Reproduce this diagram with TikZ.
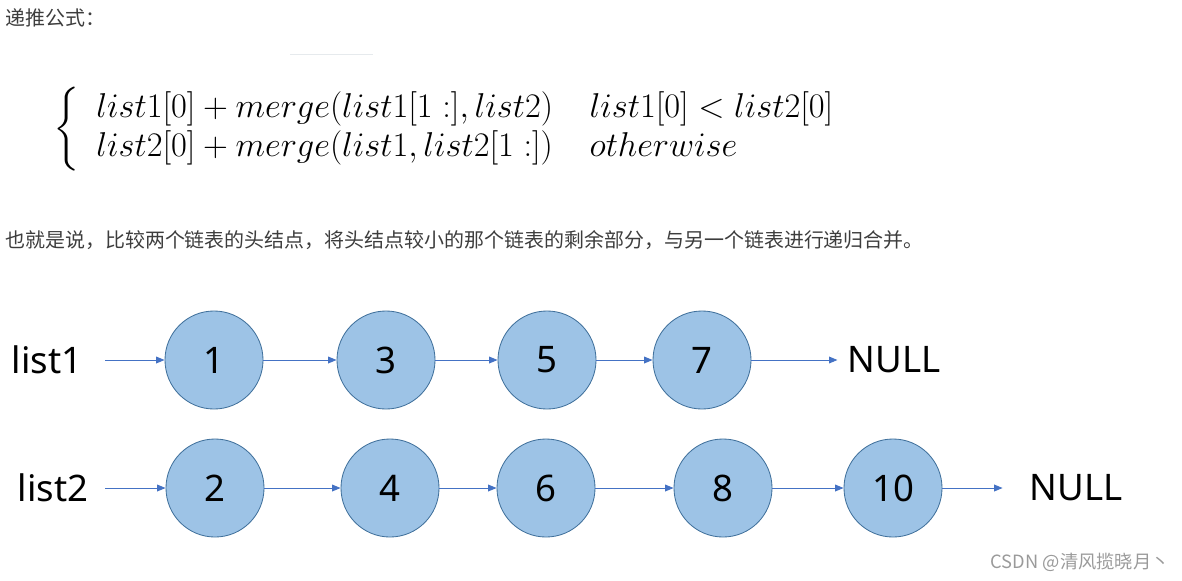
\RequirePackage{fix-cm}
\documentclass[tikz,border=0pt]{standalone}
\usepackage{xcolor}
\usepackage{exscale}
\usepackage{fontspec}
\usepackage{tikz}
\usetikzlibrary{arrows.meta}
\newfontfamily\cjkfont{Noto Sans CJK SC}
\newfontfamily\nodefont{Noto Sans}
\definecolor{nodefill}{HTML}{9DC3E6}
\definecolor{nodeline}{HTML}{41719C}
\definecolor{linkcolor}{HTML}{4472C4}
\definecolor{textgray}{HTML}{3D3D3D}
\definecolor{markgray}{HTML}{9A9A9A}
\definecolor{rulegray}{HTML}{E6EAED}
\tikzset{
  listnode/.style={draw=nodeline, line width=0.6pt, fill=nodefill, circle, minimum size=2.45cm, inner sep=0pt, font=\nodefont\fontsize{26pt}{30pt}\selectfont},
  plainlabel/.style={inner sep=0pt, font=\nodefont\fontsize{26pt}{30pt}\selectfont},
  link/.style={draw=linkcolor, line width=0.7pt, -{Triangle[length=6pt,width=4.8pt]}},
}

\begin{document}
\begin{tikzpicture}[x=0.025cm, y=-0.025cm]%
\useasboundingbox (0,0) rectangle (1182,580);%
% text above the lists
\node[anchor=west, inner sep=0pt, text=textgray, font=\cjkfont\fontsize{14.2pt}{17pt}\selectfont] (title) at (5,18) {递推公式：};%
\draw[rulegray, line width=0.7pt] (290,54) -- (373,54);%
\node[anchor=west, inner sep=0pt, font=\fontsize{24.5pt}{28.4pt}\selectfont] (rec) at (53,129) {$\left\{\hspace{7pt}\begin{array}{l@{\hspace{26pt}}l} list1[0]+merge(list1[1:],list2) & list1[0]<list2[0]\\ list2[0]+merge(list1,list2[1:]) & otherwise \end{array}\right.$};%
\node[anchor=west, inner sep=0pt, text=textgray, font=\cjkfont\fontsize{14.2pt}{17pt}\selectfont] (note) at (5,240) {也就是说，比较两个链表的头结点，将头结点较小的那个链表的剩余部分，与另一个链表进行递归合并。};%
% list 1
\node[plainlabel] (lst1) at (47,360) {list1};%
\node[listnode] (n1) at (214,360) {1};%
\node[listnode] (n3) at (386,360) {3};%
\node[listnode] (n5) at (547,360) {5};%
\node[listnode] (n7) at (702,360) {7};%
\node[plainlabel] (null1) at (894,360) {NULL};%
% list 2
\node[plainlabel] (lst2) at (53,488) {list2};%
\node[listnode] (n2) at (215,488) {2};%
\node[listnode] (n4) at (390,488) {4};%
\node[listnode] (n6) at (546,488) {6};%
\node[listnode] (n8) at (723,488) {8};%
\node[listnode] (n10) at (893,488) {10};%
\node[plainlabel] (null2) at (1076,488) {NULL};%
% links
\draw[link, shorten <=16pt] (lst1) -- (n1);%
\draw[link] (n1) -- (n3);%
\draw[link] (n3) -- (n5);%
\draw[link] (n5) -- (n7);%
\draw[link, shorten >=7pt] (n7) -- (null1);%
\draw[link, shorten <=12pt] (lst2) -- (n2);%
\draw[link] (n2) -- (n4);%
\draw[link] (n4) -- (n6);%
\draw[link] (n6) -- (n8);%
\draw[link] (n8) -- (n10);%
\draw[link, shorten >=19pt] (n10) -- (null2);%
\node[anchor=east, inner sep=0pt, text=markgray, font=\cjkfont\fontsize{13pt}{16pt}\selectfont] (mark) at (1170,562) {CSDN @清风揽晓月丶};%
\end{tikzpicture}
\end{document}
